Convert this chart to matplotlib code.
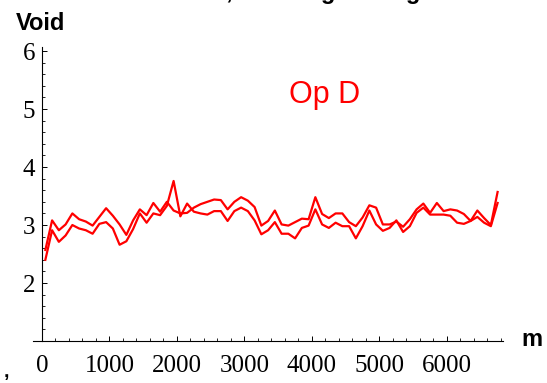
import numpy as np
import matplotlib
matplotlib.use("Agg")
import matplotlib.pyplot as plt
from matplotlib.ticker import MultipleLocator

# m values (step 100) and the two void curves
m_vals = np.arange(50, 6800, 100)
void_a = [2.57, 3.08, 2.91, 3.01, 3.20, 3.10, 3.06, 2.99, 3.14, 3.29,
          3.16, 3.01, 2.83, 3.08, 3.27, 3.17, 3.38, 3.23, 3.40, 3.25,
          3.20, 3.21, 3.30, 3.36, 3.40, 3.44, 3.43, 3.27, 3.40, 3.48,
          3.42, 3.31, 2.99, 3.07, 3.25, 3.01, 2.99, 3.05, 3.11, 3.10,
          3.48, 3.19, 3.12, 3.20, 3.20, 3.05, 2.98, 3.13, 3.34, 3.30,
          3.01, 3.01, 3.06, 2.97, 3.10, 3.27, 3.37, 3.21, 3.38, 3.24,
          3.27, 3.25, 3.19, 3.07, 3.25, 3.12, 3.00, 3.57]
void_b = [2.40, 2.91, 2.71, 2.82, 3.00, 2.94, 2.91, 2.85, 3.02, 3.05,
          2.94, 2.66, 2.72, 2.93, 3.20, 3.04, 3.20, 3.17, 3.33, 3.76,
          3.15, 3.37, 3.23, 3.20, 3.18, 3.24, 3.24, 3.07, 3.24, 3.30,
          3.24, 3.08, 2.84, 2.91, 3.05, 2.85, 2.85, 2.77, 2.95, 2.99,
          3.27, 3.01, 2.95, 3.04, 2.98, 2.98, 2.77, 2.98, 3.25, 3.01,
          2.90, 2.95, 3.08, 2.88, 2.98, 3.21, 3.30, 3.18, 3.18, 3.18,
          3.16, 3.04, 3.02, 3.07, 3.14, 3.04, 2.98, 3.38]
y_ticks = [2, 3, 4, 5, 6]
x_ticks = [0, 1000, 2000, 3000, 4000, 5000, 6000]

W, H = 547, 383
fig = plt.figure(figsize=(W / 100, H / 100), dpi=100)
ax = fig.add_axes([33 / W, (H - 341) / H, (503 - 33) / W, (341 - 47) / H])

ax.plot(m_vals, void_a, color="#ff0000", lw=1.6)
ax.plot(m_vals, void_b, color="#ff0000", lw=1.6)

ax.set_xlim(-133, 6830)
ax.set_ylim(1, 6.07)

# mathematica style axes crossing at (0, 1)
ax.spines["left"].set_position(("data", 0))
ax.spines["bottom"].set_position(("data", 1))
ax.spines["top"].set_visible(False)
ax.spines["right"].set_visible(False)
for s in ("left", "bottom"):
    ax.spines[s].set_linewidth(0.8)

ax.set_xticks(x_ticks)
ax.set_yticks(y_ticks)
ax.xaxis.set_minor_locator(MultipleLocator(200))
ax.yaxis.set_minor_locator(MultipleLocator(0.2))
ax.tick_params(which="major", direction="in", length=3.8, width=0.7)
ax.tick_params(which="minor", direction="in", length=2.2, width=0.6)
ax.tick_params(axis="x", pad=10)
ax.tick_params(axis="y", pad=5)
for lab in ax.get_xticklabels() + ax.get_yticklabels():
    lab.set_fontfamily("Liberation Serif")
    lab.set_fontsize(18)

fig.text(41 / W, 1 - 24 / H, "Void", ha="center", va="center",
         family="Liberation Sans", weight="bold", fontsize=17)
fig.text(532 / W, 1 - 339 / H, "m", ha="center", va="center",
         family="Liberation Sans", weight="bold", fontsize=17)
ax.text(325 / W, 1 - 95 / H, "Op D", transform=fig.transFigure,
        ha="center", va="center", color="#ff0000",
        family="Liberation Sans", fontsize=22)

# cut-off title at the top edge and stray mark bottom left
fig.text(278 / W, 1 + 1.5 / H, "Void Size, Running Average", ha="center",
         va="baseline", family="Liberation Sans", weight="bold", fontsize=17)
fig.text(6 / W, 1 - 373 / H, ",", ha="center", va="center",
         family="Liberation Sans", weight="bold", fontsize=14)

fig.savefig("out.png", dpi=100)
